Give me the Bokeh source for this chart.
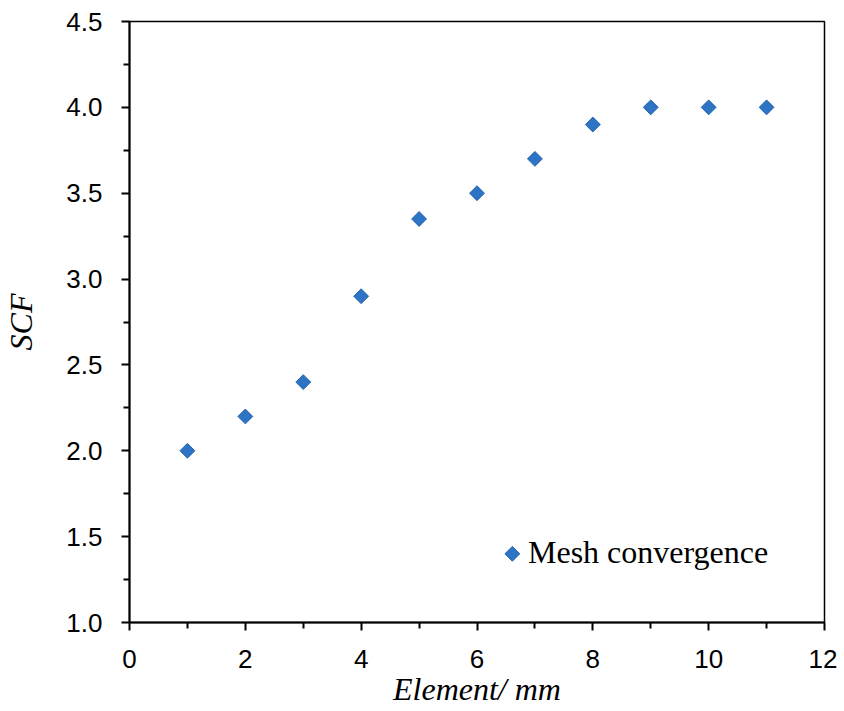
import math
from bokeh.plotting import figure
from bokeh.models import Range1d, FixedTicker, Legend, LegendItem, CustomJSTickFormatter
from bokeh.embed import file_html
from bokeh.resources import INLINE

# Data
element_mm = [1, 2, 3, 4, 5, 6, 7, 8, 9, 10, 11]
scf = [2.0, 2.2, 2.4, 2.9, 3.35, 3.5, 3.7, 3.9, 4.0, 4.0, 4.0]
x_ticks = [0, 2, 4, 6, 8, 10, 12]
x_minor = [1, 3, 5, 7, 9, 11]
y_ticks = [1.0, 1.5, 2.0, 2.5, 3.0, 3.5, 4.0, 4.5]
y_minor = [1.25, 1.75, 2.25, 2.75, 3.25, 3.75, 4.25]
series_name = "Mesh convergence"

# legend key position (data units) - legend placement only
legend_key_x = [6.61]
legend_key_y = [1.40]

FILL = "#2E74C4"
EDGE = "#2563AE"

p = figure(
    frame_width=695, frame_height=601,
    min_border_left=123, min_border_right=13, min_border_top=21, min_border_bottom=73,
    x_range=Range1d(0, 12), y_range=Range1d(1.0, 4.5),
    output_backend="svg", toolbar_location=None,
    background_fill_color="white", border_fill_color="white",
)
p.grid.visible = False
p.outline_line_color = "black"
p.outline_line_width = 1.5

r = p.scatter(element_mm, scf, marker="square", size=10.5, angle=math.pi / 4,
              fill_color=FILL, line_color=EDGE, line_width=1)

# legend key drawn as rotated square (Bokeh legend does not rotate markers)
p.scatter(legend_key_x, legend_key_y, marker="square", size=10.5, angle=math.pi / 4,
          fill_color=FILL, line_color=EDGE, line_width=1)
dummy = p.scatter([], [], marker="square", size=1, fill_alpha=0, line_alpha=0)

for ax in (p.xaxis[0], p.yaxis[0]):
    ax.axis_line_width = 2
    ax.axis_line_color = "black"
    ax.major_tick_line_width = 2
    ax.minor_tick_line_width = 2
    ax.major_tick_out = 8
    ax.major_tick_in = 0
    ax.minor_tick_out = 6
    ax.minor_tick_in = 0
    ax.major_label_text_font = "Liberation Sans"
    ax.major_label_text_font_size = "26px"
    ax.major_label_text_color = "black"
    ax.axis_label_text_font = "Liberation Serif"
    ax.axis_label_text_font_style = "italic"
    ax.axis_label_text_font_size = "32px"
    ax.axis_label_text_color = "black"

p.xaxis[0].ticker = FixedTicker(ticks=x_ticks, minor_ticks=x_minor)
p.yaxis[0].ticker = FixedTicker(ticks=y_ticks, minor_ticks=y_minor)
p.yaxis[0].formatter = CustomJSTickFormatter(code="return tick.toFixed(1);")
p.xaxis[0].axis_label = "Element/ mm"
p.yaxis[0].axis_label = "SCF"
p.xaxis[0].major_label_standoff = 19
p.yaxis[0].major_label_standoff = 19
p.xaxis[0].axis_label_standoff = 0
p.yaxis[0].axis_label_standoff = 24

legend = Legend(
    items=[LegendItem(label=series_name, renderers=[dummy])],
    location=(391, 51),
    border_line_color=None, background_fill_alpha=0,
    padding=0, margin=0, spacing=0,
    glyph_width=1, glyph_height=26, label_standoff=7,
    label_text_font="Liberation Serif", label_text_font_size="32px",
    label_text_color="black",
)
p.add_layout(legend)

open("out.html", "w").write(file_html(p, INLINE))
